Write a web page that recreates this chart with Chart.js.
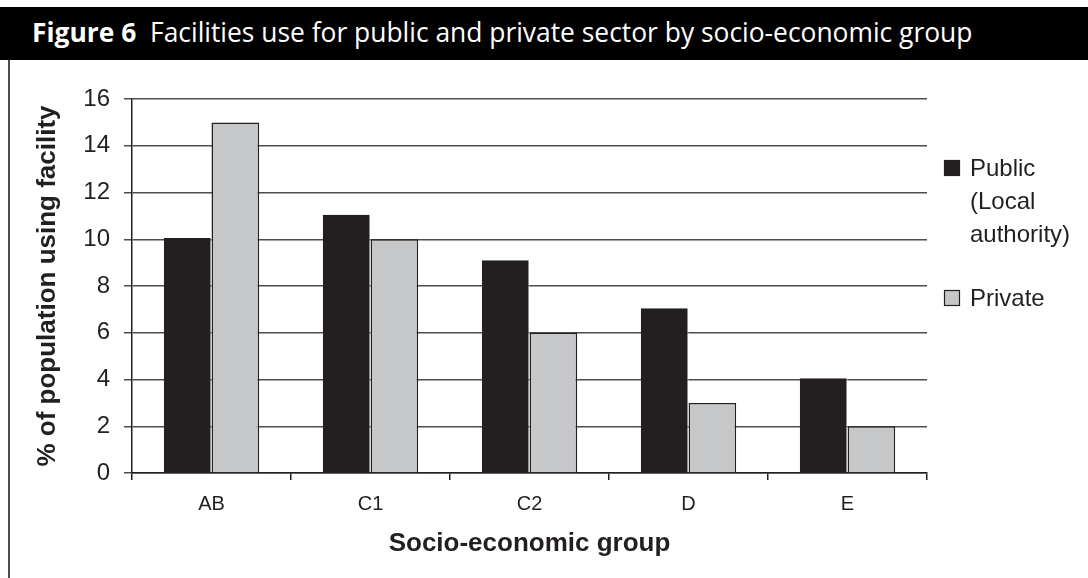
<!DOCTYPE html>
<html>
<head>
<meta charset="utf-8">
<script src="https://cdn.jsdelivr.net/npm/chart.js@4/dist/chart.umd.min.js"></script>
<style>
  html, body { margin: 0; padding: 0; background: #fff; }
  body { width: 1088px; height: 578px; position: relative; overflow: hidden; }
  #cabecera {
    position: absolute; left: 0; top: 7px; width: 1088px; height: 53px;
    background: #000; color: #fff; white-space: nowrap;
    font-family: 'Open Sans', sans-serif; font-size: 23px; line-height: 53px;
  }
  #cabecera span { position: absolute; left: 32px; top: -1px; }
  #marco { position: absolute; left: 8px; top: 60px; height: 530px; border-left: 2px solid #4d4d4d; }
  #grafico { position: absolute; left: 0; top: 0; }
</style>
</head>
<body>
<div id="cabecera"><span id="tituloFigura"><b>Figure 6</b>&nbsp;&nbsp;Facilities use for public and private sector by socio-economic group</span></div>
<div id="marco"></div>
<canvas id="grafico" width="1088" height="578"></canvas>
<script>
// Datos
const grupos = ['AB', 'C1', 'C2', 'D', 'E'];
const publico = [10.05, 11.05, 9.1, 7.05, 4.05];
const privado = [15, 10, 6, 3, 2];
const nombresSeries = ['Public (Local authority)', 'Private'];
const lineasLeyenda = [['Public', '(Local', 'authority)'], ['Private']];
const ejeYMin = 0;
const ejeYMax = 16;
const ejeYPaso = 2;

const tinta = '#231f20';
const gris = '#c6c7c9';
const fuente = "'Liberation Sans', Arial, sans-serif";

// ajustar el ancho del titulo de cabecera (~941px en el original)
const spanTitulo = document.getElementById('tituloFigura');
const anchoActual = spanTitulo.getBoundingClientRect().width;
spanTitulo.style.fontSize = (23 * 941 / anchoActual) + 'px';

// Leyenda propia con etiquetas de varias líneas
const leyendaPropia = {
  id: 'leyendaPropia',
  afterDraw(chart) {
    const ctx = chart.ctx;
    const x0 = chart.chartArea.right + 17;
    const centros = [168, 298];
    ctx.save();
    ctx.font = '24px ' + fuente;
    ctx.textBaseline = 'middle';
    chart.data.datasets.forEach((ds, i) => {
      const yc = centros[i];
      ctx.fillStyle = ds.backgroundColor;
      ctx.fillRect(x0, yc - 8, 16, 16);
      ctx.strokeStyle = tinta;
      ctx.lineWidth = 1.2;
      ctx.strokeRect(x0 + 0.5, yc - 7.5, 15, 15);
      ctx.fillStyle = tinta;
      lineasLeyenda[i].forEach((linea, j) => {
        ctx.fillText(linea, x0 + 26, yc + 1 + j * 33);
      });
    });
    ctx.restore();
  }
};

const ctx = document.getElementById('grafico').getContext('2d');
new Chart(ctx, {
  type: 'bar',
  data: {
    labels: grupos,
    datasets: [
      {
        label: nombresSeries[0],
        data: publico,
        backgroundColor: tinta,
        borderColor: '#ffffff',
        borderWidth: { top: 0, left: 0, bottom: 0, right: 1 },
        borderSkipped: false,
        categoryPercentage: 0.6,
        barPercentage: 1.0
      },
      {
        label: nombresSeries[1],
        data: privado,
        backgroundColor: gris,
        borderColor: tinta,
        borderWidth: 1.5,
        borderSkipped: 'bottom',
        categoryPercentage: 0.6,
        barPercentage: 1.0
      }
    ]
  },
  options: {
    responsive: false,
    animation: false,
    layout: { padding: { top: 99, right: 161, left: 0, bottom: 0 } },
    plugins: {
      legend: { display: false },
      tooltip: { enabled: false },
      title: { display: false }
    },
    scales: {
      x: {
        grid: { display: true, drawOnChartArea: false, drawTicks: true, tickLength: 7, offset: true, color: tinta, lineWidth: 1.5 },
        border: { display: true, color: tinta, width: 1.5 },
        ticks: { color: tinta, font: { family: fuente, size: 20 }, padding: 12 },
        title: {
          display: true,
          text: 'Socio-economic group',
          color: tinta,
          font: { family: fuente, size: 26, weight: 'bold' },
          padding: { top: 0, bottom: 19 }
        },
        afterFit: (escala) => { escala.height = 105; }
      },
      y: {
        min: ejeYMin,
        max: ejeYMax,
        ticks: { stepSize: ejeYPaso, color: tinta, font: { family: fuente, size: 24 }, padding: 14 },
        grid: { color: '#4d4d4d', lineWidth: 1.5, tickLength: 8, drawTicks: true },
        border: { display: true, color: tinta, width: 1.5 },
        title: {
          display: true,
          text: '% of population using facility',
          color: tinta,
          font: { family: fuente, size: 26, weight: 'bold' },
          padding: { top: 32, bottom: 0 }
        },
        afterFit: (escala) => { escala.width = 132; }
      }
    }
  },
  plugins: [leyendaPropia]
});
</script>
</body>
</html>
